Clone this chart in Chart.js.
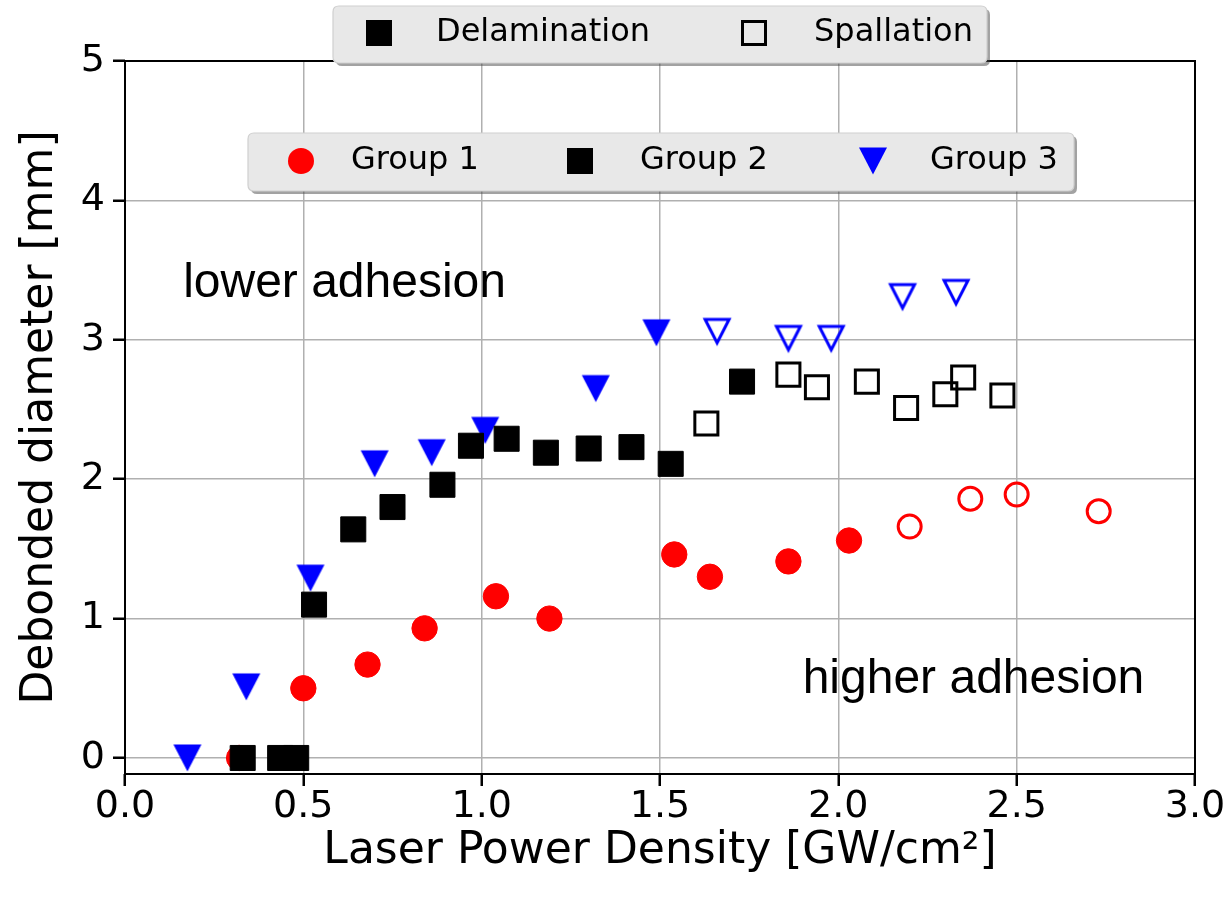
<!DOCTYPE html>
<html><head><meta charset="utf-8">
<script src="https://cdn.jsdelivr.net/npm/chart.js@4.4.1/dist/chart.umd.min.js"></script>
<style>html,body{margin:0;padding:0;background:#fff}#wrap{width:1229px;height:900px;position:relative}</style>
</head><body><div id="wrap"><canvas id="c" width="1229" height="900"></canvas></div>
<script>
// ---- data ----
const xTicks = [0.0, 0.5, 1.0, 1.5, 2.0, 2.5, 3.0];
const yTicks = [0, 1, 2, 3, 4, 5];
const g1DelamX = [0.32, 0.50, 0.68, 0.84, 1.04, 1.19, 1.54, 1.64, 1.86, 2.03];
const g1DelamY = [0.00, 0.50, 0.67, 0.93, 1.16, 1.00, 1.46, 1.30, 1.41, 1.56];
const g1SpallX = [2.20, 2.37, 2.50, 2.73];
const g1SpallY = [1.66, 1.86, 1.89, 1.77];
const g2DelamX = [0.33, 0.435, 0.48, 0.53, 0.64, 0.75, 0.89, 0.97, 1.07, 1.18, 1.30, 1.42, 1.53, 1.73];
const g2DelamY = [0.00, 0.00, 0.00, 1.10, 1.64, 1.80, 1.96, 2.24, 2.29, 2.19, 2.22, 2.23, 2.11, 2.70];
const g2SpallX = [1.63, 1.86, 1.94, 2.08, 2.19, 2.30, 2.35, 2.46];
const g2SpallY = [2.40, 2.75, 2.66, 2.70, 2.51, 2.61, 2.73, 2.60];
const g3DelamX = [0.175, 0.34, 0.52, 0.70, 0.86, 1.01, 1.32, 1.49];
const g3DelamY = [0.00, 0.51, 1.29, 2.11, 2.19, 2.35, 2.65, 3.05];
const g3SpallX = [1.66, 1.86, 1.98, 2.18, 2.33];
const g3SpallY = [3.06, 3.01, 3.01, 3.31, 3.34];
const groupNames = ['Group 1', 'Group 2', 'Group 3'];
const modeNames = ['Delamination', 'Spallation'];
const notes = [
  { text: 'lower adhesion', x: 0.163, y: 3.31 },
  { text: 'higher adhesion', x: 1.90, y: 0.466 }
];

// ---- styles ----
const RED = '#ff0000', BLACK = '#000000', BLUE = '#0000ff';
function triCanvas(filled, color) {
  const s = 32, c = document.createElement('canvas');
  c.width = s; c.height = s;
  const ctx = c.getContext('2d');
  ctx.beginPath();
  if (filled) { ctx.moveTo(2, 2.5); ctx.lineTo(30, 2.5); ctx.lineTo(16, 29.5); }
  else { ctx.moveTo(4, 4); ctx.lineTo(28, 4); ctx.lineTo(16, 27.5); }
  ctx.closePath();
  if (filled) { ctx.fillStyle = color; ctx.fill(); }
  else { ctx.strokeStyle = color; ctx.lineWidth = 3; ctx.lineJoin = 'miter'; ctx.stroke(); }
  return c;
}
const triFilled = triCanvas(true, BLUE);
const triOpen = triCanvas(false, BLUE);

const pts = (xs, ys) => xs.map((x, i) => ({ x: x, y: ys[i] }));

const datasets = [
  { label: 'G1 delam', data: pts(g1DelamX, g1DelamY), pointStyle: 'circle', pointRadius: 12.7,
    backgroundColor: RED, borderColor: RED, borderWidth: 1, order: 3 },
  { label: 'G1 spall', data: pts(g1SpallX, g1SpallY), pointStyle: 'circle', pointRadius: 11.5,
    backgroundColor: 'rgba(0,0,0,0)', borderColor: RED, borderWidth: 3, order: 3 },
  { label: 'G3 delam', data: pts(g3DelamX, g3DelamY), pointStyle: triFilled, pointRadius: 14,
    backgroundColor: BLUE, borderColor: BLUE, order: 2 },
  { label: 'G3 spall', data: pts(g3SpallX, g3SpallY), pointStyle: triOpen, pointRadius: 14,
    backgroundColor: 'rgba(0,0,0,0)', borderColor: BLUE, order: 2 },
  { label: 'G2 delam', data: pts(g2DelamX, g2DelamY), pointStyle: 'rect', pointRadius: 17.7,
    backgroundColor: BLACK, borderColor: BLACK, borderWidth: 1, order: 1 },
  { label: 'G2 spall', data: pts(g2SpallX, g2SpallY), pointStyle: 'rect', pointRadius: 16.3,
    backgroundColor: 'rgba(0,0,0,0)', borderColor: BLACK, borderWidth: 3, order: 1 }
];

function roundRect(ctx, x, y, w, h, r) {
  ctx.beginPath();
  ctx.moveTo(x + r, y); ctx.lineTo(x + w - r, y); ctx.quadraticCurveTo(x + w, y, x + w, y + r);
  ctx.lineTo(x + w, y + h - r); ctx.quadraticCurveTo(x + w, y + h, x + w - r, y + h);
  ctx.lineTo(x + r, y + h); ctx.quadraticCurveTo(x, y + h, x, y + h - r);
  ctx.lineTo(x, y + r); ctx.quadraticCurveTo(x, y, x + r, y); ctx.closePath();
}
function legendBox(ctx, x, y, w, h) {
  ctx.save();
  roundRect(ctx, x + 3, y + 3, w, h, 6);
  ctx.fillStyle = 'rgba(70,70,70,0.5)'; ctx.fill();
  roundRect(ctx, x, y, w, h, 6);
  ctx.fillStyle = '#ffffff'; ctx.fill();
  ctx.fillStyle = 'rgba(230,230,230,0.9)'; ctx.fill();
  ctx.strokeStyle = '#cfcfcf'; ctx.lineWidth = 1.2; ctx.stroke();
  ctx.restore();
}
function marker(ctx, kind, x, y) {
  ctx.save();
  if (kind === 'sqFilled') { ctx.fillStyle = BLACK; ctx.fillRect(x - 13, y - 13, 26, 26); }
  else if (kind === 'sqOpen') { ctx.strokeStyle = BLACK; ctx.lineWidth = 3; ctx.strokeRect(x - 11.5, y - 11.5, 23, 23); }
  else if (kind === 'circle') { ctx.fillStyle = RED; ctx.beginPath(); ctx.arc(x, y, 13, 0, Math.PI * 2); ctx.fill(); }
  else if (kind === 'tri') { ctx.drawImage(triFilled, x - 16, y - 16); }
  ctx.restore();
}

const decor = {
  id: 'decor',
  beforeDatasetsDraw(chart) {
    const { ctx, chartArea: a } = chart;
    ctx.save();
    ctx.strokeStyle = '#000'; ctx.lineWidth = 2;
    ctx.strokeRect(a.left, a.top, a.right - a.left, a.bottom - a.top);
    ctx.restore();
  },
  afterDraw(chart) {
    const { ctx } = chart;
    const xs = chart.scales.x, ys = chart.scales.y;
    ctx.save();
    ctx.fillStyle = '#000';
    ctx.font = '48px "Liberation Sans", Arial, sans-serif';
    ctx.textBaseline = 'alphabetic'; ctx.textAlign = 'left';
    notes.forEach(n => ctx.fillText(n.text, xs.getPixelForValue(n.x), ys.getPixelForValue(n.y)));
    // legend 1 (failure mode)
    legendBox(ctx, 333, 6, 654, 57);
    ctx.font = '32px "DejaVu Sans", sans-serif';
    ctx.textBaseline = 'middle'; ctx.fillStyle = '#000';
    marker(ctx, 'sqFilled', 379, 33);
    ctx.fillText(modeNames[0], 436, 33);
    marker(ctx, 'sqOpen', 754, 33);
    ctx.fillText(modeNames[1], 814, 33);
    // legend 2 (groups)
    legendBox(ctx, 248, 133, 826, 58);
    marker(ctx, 'circle', 301, 161);
    ctx.fillText(groupNames[0], 351, 161);
    marker(ctx, 'sqFilled', 580, 161);
    ctx.fillText(groupNames[1], 640, 161);
    marker(ctx, 'tri', 873, 161);
    ctx.fillText(groupNames[2], 930, 161);
    ctx.restore();
  }
};

const tickFont = { family: 'DejaVu Sans', size: 38 };
new Chart(document.getElementById('c'), {
  type: 'scatter',
  data: { datasets: datasets },
  options: {
    responsive: false, animation: false, devicePixelRatio: 1,
    layout: { padding: { top: 61, right: 34, left: 0, bottom: 0 } },
    plugins: { legend: { display: false }, tooltip: { enabled: false } },
    scales: {
      x: {
        type: 'linear', min: 0, max: 3,
        afterBuildTicks: s => { s.ticks = xTicks.map(v => ({ value: v })); },
        afterFit: s => { s.height = 126; },
        ticks: { font: tickFont, color: '#000', padding: -2, maxRotation: 0, autoSkip: false,
                 callback: v => Number(v).toFixed(1) },
        grid: { color: '#b0b0b0', lineWidth: 1.5, tickColor: '#000', tickLength: 12, tickWidth: 2.5 },
        border: { display: false },
        title: { display: true, text: 'Laser Power Density [GW/cm²]', color: '#000',
                 font: { family: 'DejaVu Sans', size: 44 }, padding: { top: 0, bottom: 22 } }
      },
      y: {
        type: 'linear', min: -0.115, max: 5,
        afterBuildTicks: s => { s.ticks = yTicks.map(v => ({ value: v })); },
        afterFit: s => { s.width = 125; },
        ticks: { font: tickFont, color: '#000', padding: 8, autoSkip: false,
                 callback: v => String(v) },
        grid: { color: '#b0b0b0', lineWidth: 1.5, tickColor: '#000', tickLength: 12, tickWidth: 2.5 },
        border: { display: false },
        title: { display: true, text: 'Debonded diameter [mm]', color: '#000',
                 font: { family: 'DejaVu Sans', size: 44 }, padding: { top: 14, bottom: 0 } }
      }
    }
  },
  plugins: [decor]
});
</script></body></html>
